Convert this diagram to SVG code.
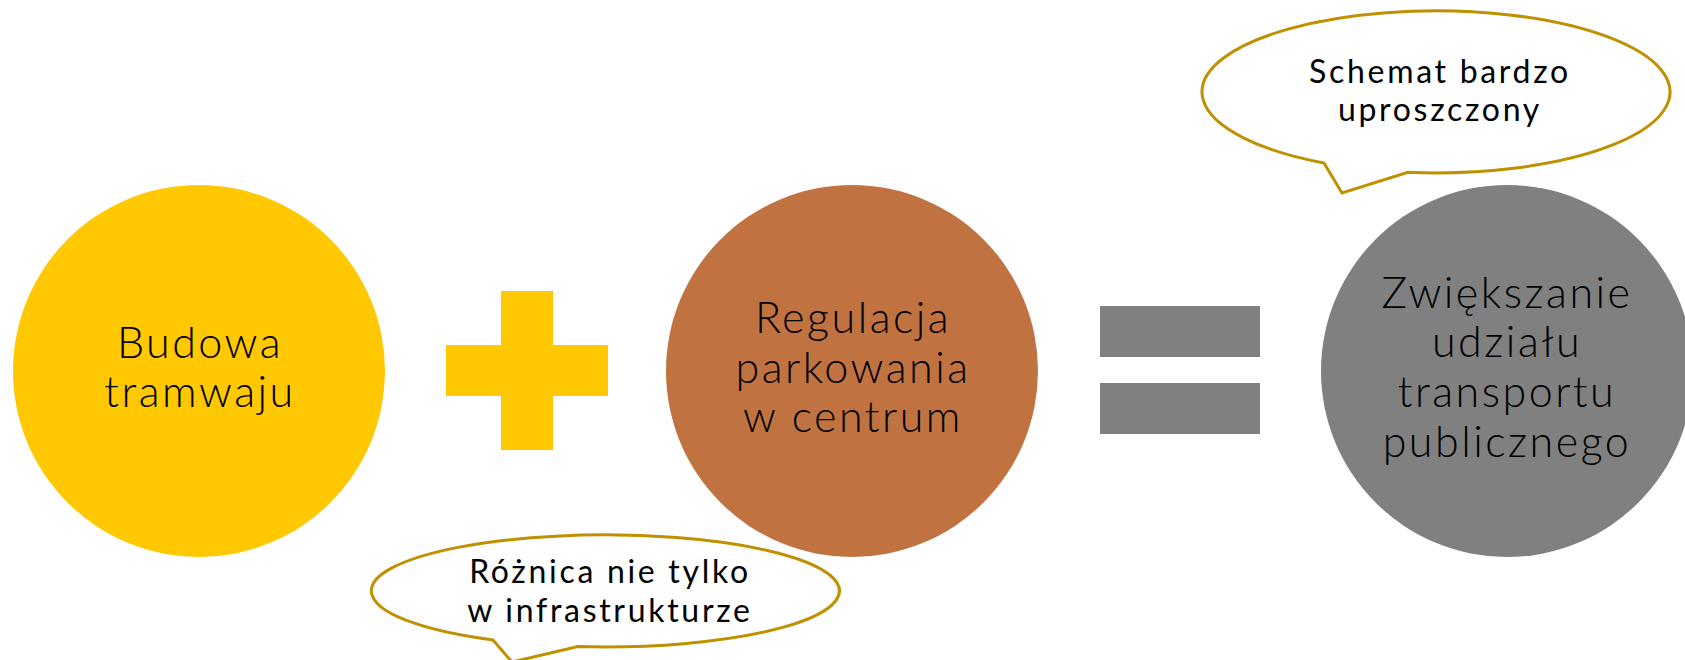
<svg xmlns="http://www.w3.org/2000/svg" width="1685" height="660" viewBox="0 0 1685 660">
<style>
.t{font-family:"Lato","Liberation Sans",sans-serif;fill:#000;text-anchor:middle}
.big{font-size:43px;font-weight:300;letter-spacing:2.5px}
.small{font-size:32px;font-weight:400;letter-spacing:2.7px}
.bub{fill:#fff;stroke:#BF9000;stroke-width:3;stroke-linejoin:miter}
</style>
<rect width="1685" height="660" fill="#fff"/>
<g id="node-budowa">
<circle cx="199" cy="371" r="186" fill="#FFC800"/>
<text class="t big" x="200" y="358">Budowa</text>
<text class="t big" x="200" y="407">tramwaju</text>
</g>
<g id="connectors">
<g id="plus" fill="#FFC800">
<rect x="446" y="345" width="162" height="51"/>
<rect x="501" y="291" width="52" height="159"/>
</g>
<g id="equals" fill="#808080">
<rect x="1100" y="306" width="160" height="51"/>
<rect x="1100" y="383" width="160" height="51"/>
</g>
</g>
<g id="node-regulacja">
<circle cx="852" cy="371" r="186" fill="#C07341"/>
<text class="t big" x="853" y="333">Regulacja</text>
<text class="t big" x="853" y="383">parkowania</text>
<text class="t big" x="853" y="432">w centrum</text>
</g>
<g id="node-zwiekszanie">
<circle cx="1507" cy="371" r="186" fill="#808080"/>
<text class="t big" x="1507" y="308">Zwiększanie</text>
<text class="t big" x="1507" y="357">udziału</text>
<text class="t big" x="1507" y="407">transportu</text>
<text class="t big" x="1507" y="457">publicznego</text>
</g>
<g id="callout-schemat">
<path class="bub" d="M 1324 163 L 1342 193 L 1408 172.3 A 234 81 0 1 0 1324 163 Z"/>
<text class="t small" x="1440" y="83">Schemat bardzo</text>
<text class="t small" x="1440" y="121">uproszczony</text>
</g>
<g id="callout-roznica">
<path class="bub" d="M 493 640 L 512 662 L 578 646.5 A 234 56 0 1 0 493 640 Z"/>
<text class="t small" x="610" y="583">Różnica nie tylko</text>
<text class="t small" x="610" y="622">w infrastrukturze</text>
</g>
</svg>
